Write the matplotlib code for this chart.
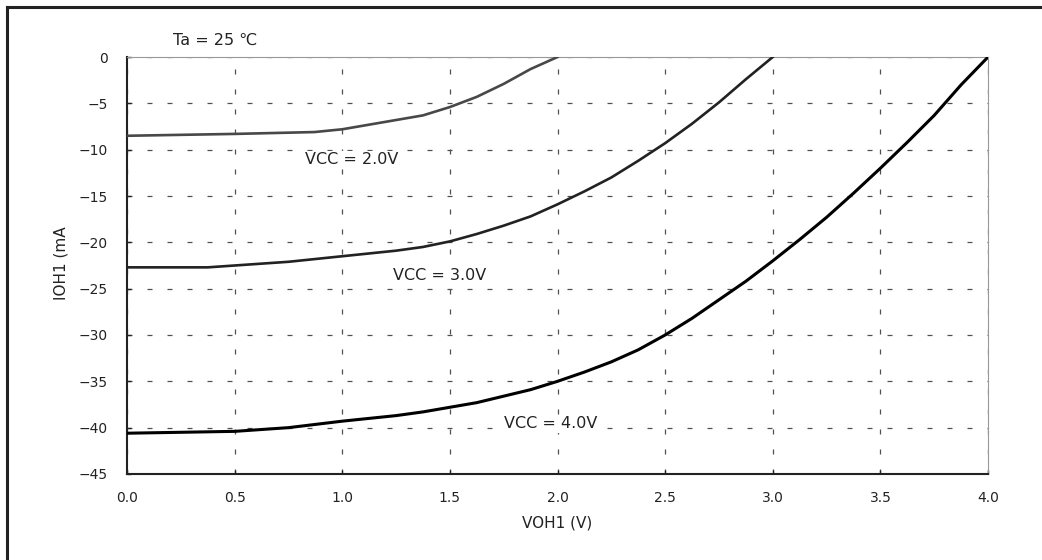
import matplotlib.pyplot as plt
from matplotlib.lines import Line2D
from matplotlib.transforms import Bbox

# VCC = 2.0V
v2 = [0.0, 0.5, 0.87, 1.0, 1.125, 1.375, 1.5, 1.625, 1.75, 1.875, 2.0]
i2 = [-8.5, -8.3, -8.1, -7.8, -7.3, -6.3, -5.4, -4.3, -2.9, -1.3, 0.0]

# VCC = 3.0V
v3 = [0.0, 0.375, 0.5, 0.75, 1.0, 1.25, 1.375, 1.5, 1.625, 1.75, 1.875,
      2.0, 2.125, 2.25, 2.375, 2.5, 2.625, 2.75, 2.875, 3.0]
i3 = [-22.7, -22.7, -22.5, -22.1, -21.5, -20.9, -20.5, -19.9, -19.1, -18.2,
      -17.2, -15.9, -14.5, -13.0, -11.2, -9.3, -7.2, -4.9, -2.4, 0.0]

# VCC = 4.0V
v4 = [0.0, 0.5, 0.75, 1.0, 1.25, 1.375, 1.5, 1.625, 1.75, 1.875, 2.0, 2.125,
      2.25, 2.375, 2.5, 2.625, 2.75, 2.875, 3.0, 3.125, 3.25, 3.375, 3.5,
      3.625, 3.75, 3.875, 4.0]
i4 = [-40.6, -40.4, -40.0, -39.3, -38.7, -38.3, -37.8, -37.3, -36.6, -35.9,
      -35.0, -34.0, -32.9, -31.6, -30.0, -28.2, -26.2, -24.2, -22.0, -19.7,
      -17.3, -14.7, -12.0, -9.2, -6.3, -3.0, 0.0]

xticks = [0.0, 0.5, 1.0, 1.5, 2.0, 2.5, 3.0, 3.5, 4.0]
yticks = [0, -5, -10, -15, -20, -25, -30, -35, -40, -45]

fig = plt.figure(figsize=(10.42, 5.6), dpi=100)
ax = fig.add_axes([0.1219, 0.1536, 0.8263, 0.7446])

ax.plot(v2, i2, color='#484848', lw=1.9, zorder=3)
ax.plot(v3, i3, color='#222222', lw=1.9, zorder=3)
ax.plot(v4, i4, color='#000000', lw=2.2, zorder=3)

ax.set_xlim(0, 4)
ax.set_ylim(-45, 0)
ax.set_xticks(xticks)
ax.set_xticklabels(['%.1f' % t for t in xticks])
ax.set_yticks(yticks)
ax.set_yticklabels(['\u2212%d' % -t if t else '0' for t in yticks])
ax.tick_params(direction='in', length=3, width=1, labelsize=10,
               colors='#222222')
ax.tick_params(axis='x', pad=12)
ax.tick_params(axis='y', pad=14)

ax.grid(True, color='#505050', lw=0.9, linestyle=(0, (4, 12)))
ax.set_axisbelow(True)

ax.spines['left'].set_color('#222222')
ax.spines['bottom'].set_color('#222222')
ax.spines['left'].set_linewidth(1.5)
ax.spines['bottom'].set_linewidth(1.5)
ax.spines['top'].set_color('#999999')
ax.spines['right'].set_color('#999999')

ax.set_xlabel('VOH1 (V)', fontsize=11, color='#222222', labelpad=8)

# y label, clipped at the top like in the scanned sheet
yl = fig.text(61 / 1042, 260 / 560, 'IOH1 (mA)', rotation=90, fontsize=11,
              ha='center', va='bottom', color='#222222')
yl.set_clip_box(Bbox([[0, 0], [1042, 560 - 226]]))
yl.set_clip_on(True)

ax.text(0.214, 1.8, 'Ta = 25 \u2103', fontsize=11.5, va='center',
        color='#222222', clip_on=False)
box = dict(facecolor='white', edgecolor='none', pad=1)
ax.text(0.827, -11.1, 'VCC = 2.0V', fontsize=11.5, va='center',
        color='#222222', bbox=box, zorder=2)
ax.text(1.236, -23.6, 'VCC = 3.0V', fontsize=11.5, va='center',
        color='#222222', bbox=box, zorder=2)
ax.text(1.751, -39.6, 'VCC = 4.0V', fontsize=11.5, va='center',
        color='#222222', bbox=box, zorder=2)

# outer frame (left and top edges visible)
fig.add_artist(Line2D([7 / 1042, 7 / 1042], [0, 1 - 7 / 560],
                      transform=fig.transFigure, color='#222222', lw=2.2))
fig.add_artist(Line2D([7 / 1042, 1], [1 - 7 / 560, 1 - 7 / 560],
                      transform=fig.transFigure, color='#222222', lw=2.2))

fig.savefig('out.png', dpi=100)
